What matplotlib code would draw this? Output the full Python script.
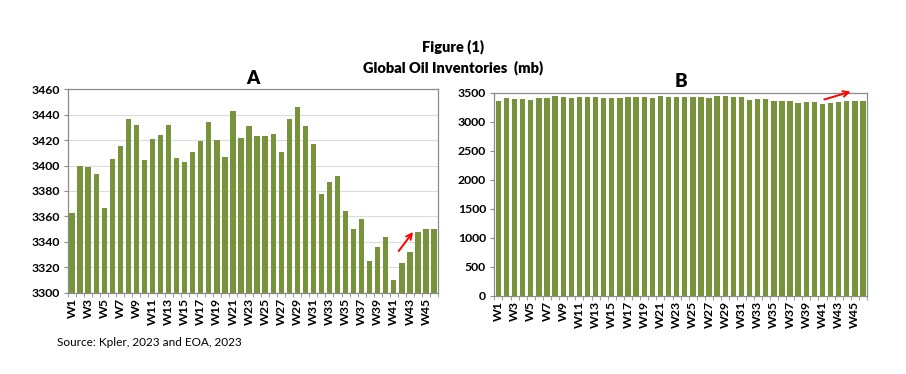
import numpy as np
import matplotlib
matplotlib.use("Agg")
import matplotlib.pyplot as plt

plt.rcParams['font.family'] = ['Lato', 'DejaVu Sans']

# weekly global oil inventories (mb)
weeks = ["W%d" % i for i in range(1, 47)]
inventories = [3363, 3400, 3399, 3393, 3367, 3405, 3415, 3437, 3432, 3404,
               3421, 3424, 3432, 3406, 3403, 3411, 3419, 3434, 3420, 3407,
               3443, 3422, 3431, 3423, 3423, 3425, 3411, 3437, 3446, 3431,
               3417, 3378, 3387, 3392, 3364, 3350, 3358, 3325, 3336, 3344,
               3310, 3323, 3332, 3348, 3350, 3350]

bar_color = "#77933C"
spine_color = "#8c8c8c"

fig = plt.figure(figsize=(9.06, 3.74), dpi=100)

fig.text(0.5, 0.875, "Figure (1)", ha="center", va="center", fontsize=10.5, fontweight="heavy")
fig.text(0.5, 0.818, "Global Oil Inventories  (mb)", ha="center", va="center", fontsize=10.5, fontweight="heavy")

ax_a = fig.add_axes([0.0751, 0.2174, 0.4084, 0.5439])
ax_b = fig.add_axes([0.5456, 0.2094, 0.4114, 0.5428])

x = np.arange(len(weeks))


def style_axis(ax):
    ax.bar(x, inventories, width=0.66, color=bar_color, zorder=3)
    ax.set_xlim(-0.5, len(weeks) - 0.5)
    ax.set_xticks(x[::2])
    ax.set_xticklabels(weeks[::2], rotation=90, fontsize=8.8, fontweight="bold")
    ax.set_xticks(np.arange(-0.5, len(weeks)), minor=True)
    ax.tick_params(axis="x", which="major", length=0, pad=4)
    ax.tick_params(axis="x", which="minor", length=3, color=spine_color, direction="out")
    ax.tick_params(axis="y", length=3, color=spine_color, labelsize=8.8, pad=3)
    for lbl in ax.get_yticklabels():
        lbl.set_fontweight("bold")
    for s in ax.spines.values():
        s.set_color(spine_color)
        s.set_linewidth(0.9)


# panel A: zoomed scale
ax_a.set_ylim(3300, 3460)
ax_a.set_yticks(np.arange(3300, 3461, 20))
ax_a.grid(axis="y", color="#dcdcdc", linewidth=0.8, zorder=0)
style_axis(ax_a)
ax_a.set_title("A", fontsize=13.5, fontweight="heavy", pad=4)
ax_a.annotate("", xy=(42.6, 3349.5), xytext=(40.4, 3331),
              arrowprops=dict(arrowstyle="->", color="red", lw=1.4))

# panel B: full scale
ax_b.set_ylim(0, 3500)
ax_b.set_yticks(np.arange(0, 3501, 500))
style_axis(ax_b)
ax_b.set_title("B", fontsize=13.5, fontweight="heavy", pad=4)
ax_b.annotate("", xy=(43.8, 3530), xytext=(39.9, 3370),
              arrowprops=dict(arrowstyle="->", color="red", lw=1.4),
              annotation_clip=False)

fig.text(0.063, 0.083, "Source: Kpler, 2023 and EOA, 2023", ha="left", va="center", fontsize=8.5)

fig.savefig("out.png", dpi=100)
